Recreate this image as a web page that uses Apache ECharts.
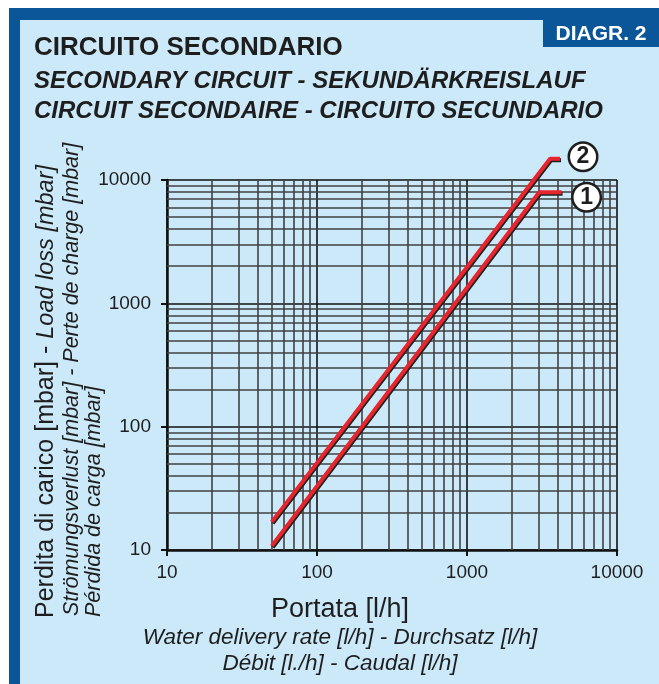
<!DOCTYPE html>
<html>
<head>
<meta charset="utf-8">
<script src="https://cdn.jsdelivr.net/npm/echarts@6/dist/echarts.min.js"></script>
<style>
html, body { margin: 0; padding: 0; background: #fff; }
#main { width: 659px; height: 684px; }
</style>
</head>
<body>
<div id="main"></div>
<script>
// ticks (decades) and the minor lines of the log paper
var flowTicks = [10, 100, 1000, 10000];
var lossTicks = [10, 100, 1000, 10000];
var minorFlow = [20, 30, 40, 50, 60, 70, 80, 90, 200, 300, 400, 500, 600, 700, 800, 900,
                 2000, 3000, 4000, 5000, 6000, 7000, 8000, 9000];
var minorLoss = [20, 30, 40, 50, 60, 70, 80, 90, 200, 300, 400, 500, 600, 700, 800, 900,
                 2000, 3000, 4000, 5000, 6000, 7000, 8000, 9000];

// curves: [flow l/h, loss mbar]
var curve1 = [[50, 10.8], [3030, 7950], [4270, 7950]];
var curve2 = [[50, 16.9], [3580, 14850], [4170, 14850]];
var curveNames = ['1', '2'];

var FONT = '"Liberation Sans", Arial, sans-serif';
var INK = '#1e1e1e';
var DARKBLUE = '#0b5699';
var LIGHTBLUE = '#cce9f9';

var myChart = echarts.init(document.getElementById('main'));

function round(v) { return String(Math.round(v)); }

function circleLabel(txt, off) {
    return {
        show: true,
        formatter: '{c|' + txt + '}',
        distance: 9,
        offset: off,
        rich: {
            c: {
                width: 24, height: 24, lineHeight: 25, align: 'center', padding: 1,
                fontSize: 23, fontWeight: 'bold', fontFamily: FONT, color: INK,
                backgroundColor: '#fff', borderColor: INK, borderWidth: 2.5, borderRadius: 15
            }
        }
    };
}

function curveSeries(name, data, off) {
    return {
        name: name,
        type: 'line',
        data: data,
        symbol: 'none',
        showSymbol: false,
        clip: false,
        z: 5,
        lineStyle: {
            color: '#e8242c', width: 4,
            shadowColor: '#222', shadowOffsetX: 1, shadowOffsetY: 1.5, shadowBlur: 0
        },
        endLabel: circleLabel(name, off)
    };
}

var option = {
    backgroundColor: LIGHTBLUE,
    animation: false,
    grid: { left: 167, right: 42, top: 180, bottom: 134 },
    xAxis: {
        type: 'log', logBase: 10, min: 10, max: 10000, splitNumber: 3,
        axisLine: { lineStyle: { color: '#111', width: 2.5 } },
        axisTick: { show: true, length: 6, lineStyle: { color: '#111', width: 2 } },
        axisLabel: { margin: 13, fontSize: 19, color: INK, fontFamily: FONT, formatter: round },
        splitLine: { show: true, lineStyle: { color: '#111', width: 1.6 } },
        minorTick: { show: false }
    },
    yAxis: {
        type: 'log', logBase: 10, min: 10, max: 10000, splitNumber: 3,
        axisLine: { lineStyle: { color: '#111', width: 2.5 } },
        axisTick: { show: true, length: 6, lineStyle: { color: '#111', width: 2 } },
        axisLabel: { margin: 16, fontSize: 19, color: INK, fontFamily: FONT, formatter: round },
        splitLine: { show: true, lineStyle: { color: '#111', width: 1.6 } },
        minorTick: { show: false }
    },
    series: [
        {
            type: 'line',
            data: [[10, 10]],
            symbol: 'none',
            lineStyle: { opacity: 0 },
            z: 1,
            silent: true,
            markLine: {
                silent: true,
                symbol: 'none',
                label: { show: false },
                lineStyle: { type: 'solid', color: '#404040', width: 1.6 },
                data: minorFlow.map(function (v) { return { xAxis: v }; })
                    .concat(minorLoss.map(function (v) { return { yAxis: v }; }))
            }
        },
        curveSeries(curveNames[0], curve1, [3, 5]),
        curveSeries(curveNames[1], curve2, [1, -2])
    ],
    graphic: [
        // frame
        { type: 'rect', shape: { x: 0, y: 0, width: 659, height: 8 }, style: { fill: '#fff' } },
        { type: 'rect', shape: { x: 0, y: 0, width: 9, height: 684 }, style: { fill: '#fff' } },
        { type: 'rect', shape: { x: 9, y: 8, width: 650, height: 12 }, style: { fill: DARKBLUE } },
        { type: 'rect', shape: { x: 9, y: 8, width: 11, height: 676 }, style: { fill: DARKBLUE } },
        { type: 'rect', shape: { x: 543, y: 20, width: 116, height: 27 }, style: { fill: DARKBLUE } },
        { type: 'text', x: 601, y: 34, style: { text: 'DIAGR. 2', fill: '#fff', fontSize: 21, fontWeight: 'bold', fontFamily: FONT, align: 'center', verticalAlign: 'middle' } },
        // titles
        { type: 'text', x: 34, y: 48, style: { text: 'CIRCUITO SECONDARIO', fill: INK, fontSize: 26, fontWeight: 'bold', fontFamily: FONT, align: 'left', verticalAlign: 'middle' } },
        { type: 'text', x: 34, y: 81, style: { text: 'SECONDARY CIRCUIT - SEKUNDÄRKREISLAUF', fill: INK, fontSize: 24, fontWeight: 'bold', fontStyle: 'italic', fontFamily: FONT, align: 'left', verticalAlign: 'middle' } },
        { type: 'text', x: 34, y: 111, style: { text: 'CIRCUIT SECONDAIRE - CIRCUITO SECUNDARIO', fill: INK, fontSize: 24, fontWeight: 'bold', fontStyle: 'italic', fontFamily: FONT, align: 'left', verticalAlign: 'middle' } },
        // y axis title
        {
            type: 'text', x: 46, y: 618, rotation: Math.PI / 2,
            style: {
                text: '{a|Perdita di carico [mbar] - }{b|Load loss [mbar]}',
                align: 'left', verticalAlign: 'middle',
                rich: {
                    a: { fontSize: 25, fontFamily: FONT, fill: INK },
                    b: { fontSize: 23.5, fontStyle: 'italic', fontFamily: FONT, fill: INK }
                }
            }
        },
        { type: 'text', x: 72, y: 616, rotation: Math.PI / 2, style: { text: 'Strömungsverlust [mbar] - Perte de charge [mbar]', fill: INK, fontSize: 21.5, fontStyle: 'italic', fontFamily: FONT, align: 'left', verticalAlign: 'middle' } },
        { type: 'text', x: 94, y: 617, rotation: Math.PI / 2, style: { text: 'Pérdida de carga [mbar]', fill: INK, fontSize: 21.5, fontStyle: 'italic', fontFamily: FONT, align: 'left', verticalAlign: 'middle' } },
        // x axis title
        { type: 'text', x: 340, y: 610, style: { text: 'Portata [l/h]', fill: INK, fontSize: 27, fontFamily: FONT, align: 'center', verticalAlign: 'middle' } },
        { type: 'text', x: 340, y: 638, style: { text: 'Water delivery rate [l/h] - Durchsatz [l/h]', fill: INK, fontSize: 22.5, fontStyle: 'italic', fontFamily: FONT, align: 'center', verticalAlign: 'middle' } },
        { type: 'text', x: 340, y: 664, style: { text: 'Débit [l./h] - Caudal [l/h]', fill: INK, fontSize: 22.5, fontStyle: 'italic', fontFamily: FONT, align: 'center', verticalAlign: 'middle' } }
    ]
};

myChart.setOption(option);
</script>
</body>
</html>
